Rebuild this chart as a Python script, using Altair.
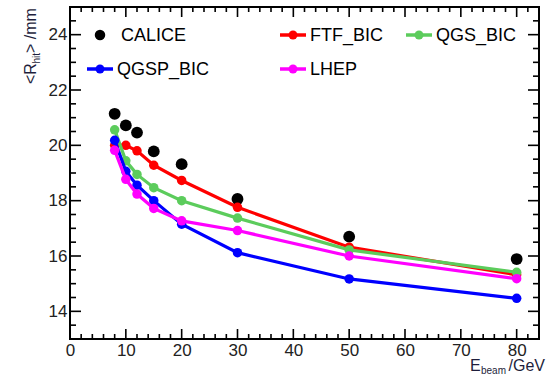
import altair as alt
import pandas as pd

# ---- data ----
energy = [8, 10, 12, 15, 20, 30, 50, 80]
calice = [21.14, 20.72, 20.46, 19.78, 19.32, 18.06, 16.70, 15.89]
ftf_bic = [20.00, 20.00, 19.80, 19.28, 18.73, 17.76, 16.32, 15.32]
qgs_bic = [20.56, 19.44, 18.95, 18.47, 18.00, 17.37, 16.22, 15.41]
qgsp_bic = [20.18, 19.06, 18.56, 18.00, 17.15, 16.12, 15.17, 14.47]
lhep = [19.82, 18.77, 18.24, 17.72, 17.27, 16.92, 16.00, 15.18]

x_labels = [0, 10, 20, 30, 40, 50, 60, 70, 80]
y_labels = [14, 16, 18, 20, 22, 24]
x_minor = [v for v in range(2, 85, 2) if v % 10 != 0]
y_minor = [13 + 0.5 * i for i in range(25) if (13 + 0.5 * i) not in y_labels and 13 + 0.5 * i < 25]

series_names = ["FTF_BIC", "QGS_BIC", "QGSP_BIC", "LHEP"]
series_vals = [ftf_bic, qgs_bic, qgsp_bic, lhep]
series_colors = ["#ff0000", "#5ccc5c", "#0000ff", "#ff00ff"]

W, H = 469, 332
FONT = "Liberation Sans"
TITLE_COLOR = "#1e1e3c"

xs = alt.Scale(domain=[0, 84], nice=False, zero=False)
ys = alt.Scale(domain=[13, 25], nice=False, zero=False)

layers = []

# CALICE data points (carry the axes)
cal_df = pd.DataFrame({"E": energy, "R": calice})
layers.append(
    alt.Chart(cal_df).mark_circle(color="black", size=140, opacity=1).encode(
        x=alt.X("E:Q", scale=xs, title=None,
                axis=alt.Axis(values=x_labels, ticks=False, domain=False, grid=False,
                              labelFontSize=17, labelFont=FONT, labelColor="#222222",
                              labelPadding=3, labelFlush=False)),
        y=alt.Y("R:Q", scale=ys, title=None,
                axis=alt.Axis(values=y_labels, ticks=False, domain=False, grid=False,
                              labelFontSize=17, labelFont=FONT, labelColor="#222222",
                              labelPadding=3)),
    )
)

# simulation series
for name, vals, col in zip(series_names, series_vals, series_colors):
    df = pd.DataFrame({"E": energy, "R": vals})
    base = alt.Chart(df).encode(
        x=alt.X("E:Q", scale=xs, title=None),
        y=alt.Y("R:Q", scale=ys, title=None),
    )
    layers.append(base.mark_line(color=col, strokeWidth=3.2))
    layers.append(base.mark_circle(color=col, size=90, opacity=1))

# frame ticks (inside, mirrored on all sides)
def xticks(vals, length):
    df = pd.DataFrame({"v": vals})
    b = alt.Chart(df).mark_rule(color="black", strokeWidth=1.6)
    enc = alt.X("v:Q", scale=xs, title=None)
    return [b.encode(x=enc, y=alt.value(H), y2=alt.value(H - length)),
            b.encode(x=enc, y=alt.value(0), y2=alt.value(length))]

def yticks(vals, length):
    df = pd.DataFrame({"v": vals})
    b = alt.Chart(df).mark_rule(color="black", strokeWidth=1.6)
    enc = alt.Y("v:Q", scale=ys, title=None)
    return [b.encode(y=enc, x=alt.value(0), x2=alt.value(length)),
            b.encode(y=enc, x=alt.value(W), x2=alt.value(W - length))]

layers += xticks(x_labels, 10) + xticks(x_minor, 5)
layers += yticks(y_labels, 11) + yticks(y_minor, 6)

# legend
leg_names = ["CALICE", "FTF_BIC", "QGS_BIC", "QGSP_BIC", "LHEP"]
leg_colors = ["black"] + [series_colors[0], series_colors[1], series_colors[2], series_colors[3]]
leg_x = [30, 223, 349, 30, 223]
leg_y = [28, 28, 28, 62, 62]
one = pd.DataFrame({"a": [0]})
for name, col, lx, ly in zip(leg_names, leg_colors, leg_x, leg_y):
    if name == "CALICE":
        layers.append(alt.Chart(one).mark_circle(color="black", size=110, opacity=1).encode(
            x=alt.value(lx), y=alt.value(ly)))
        tx = lx + 21
    else:
        layers.append(alt.Chart(one).mark_rule(color=col, strokeWidth=3.5).encode(
            x=alt.value(lx - 13), x2=alt.value(lx + 13), y=alt.value(ly)))
        layers.append(alt.Chart(one).mark_circle(color=col, size=80, opacity=1).encode(
            x=alt.value(lx), y=alt.value(ly)))
        tx = lx + 17
    layers.append(alt.Chart(pd.DataFrame({"t": [name]})).mark_text(
        font=FONT, fontSize=18, color="black", align="left", baseline="middle").encode(
        text="t:N", x=alt.value(tx), y=alt.value(ly + 1)))

# axis titles built from pieces (for subscripts)
def txt(s, x, y, size, angle=0, align="left"):
    kw = dict(font=FONT, fontSize=size, color=TITLE_COLOR, align=align, baseline="alphabetic")
    if angle:
        kw["angle"] = angle
    return alt.Chart(pd.DataFrame({"t": [s]})).mark_text(**kw).encode(
        text="t:N", x=alt.value(x), y=alt.value(y))

# y title: <R_hit> /mm, rotated
layers.append(txt("<R", -34, 77, 16, angle=270))
layers.append(txt("hit", -30.5, 56.5, 10, angle=270))
layers.append(txt("> /mm", -34, 46, 16, angle=270))

# x title: E_beam /GeV
layers.append(txt("E", 400, 364, 16))
layers.append(txt("beam", 411, 367, 10))
layers.append(txt("/GeV", 438.5, 364, 16))

chart = alt.layer(*layers).properties(
    width=W, height=H,
    autosize=alt.AutoSizeParams(type="none"),
    padding={"left": 70, "top": 7, "right": 10, "bottom": 36},
).configure_view(stroke="black", strokeWidth=2)

chart.save("out.html", embed_options={"renderer": "svg", "actions": False})
